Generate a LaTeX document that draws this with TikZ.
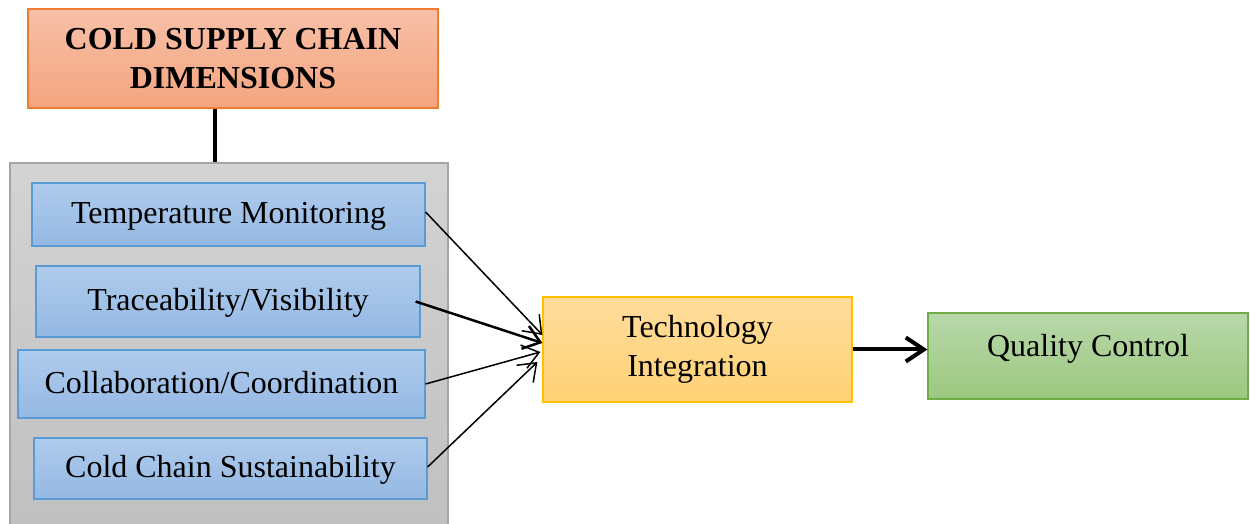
\documentclass[tikz,border=0pt]{standalone}
\usepackage{fontspec}
\setmainfont{Liberation Serif}
\usetikzlibrary{arrows.meta,calc}

\definecolor{titletop}{HTML}{F8C0A8}
\definecolor{titlebot}{HTML}{F4A47E}
\definecolor{titleline}{HTML}{ED7D31}
\definecolor{bluetop}{HTML}{AFCBEC}
\definecolor{bluebot}{HTML}{94B8E3}
\definecolor{blueline}{HTML}{5B9BD5}
\definecolor{graytop}{HTML}{D3D3D3}
\definecolor{graybot}{HTML}{C0C0C0}
\definecolor{grayline}{HTML}{A5A5A5}
\definecolor{techtop}{HTML}{FFDC9C}
\definecolor{techbot}{HTML}{FFD274}
\definecolor{techline}{HTML}{FFC000}
\definecolor{qualtop}{HTML}{B8D8AA}
\definecolor{qualbot}{HTML}{9CC77F}
\definecolor{qualline}{HTML}{70AD47}

\tikzset{
  basebox/.style={rectangle, inner sep=0pt, align=center, line width=0.6pt,
    font=\fontsize{16pt}{19.5pt}\selectfont},
  titlebox/.style={basebox, draw=titleline, top color=titletop, bottom color=titlebot,
    font=\fontsize{16pt}{19.5pt}\selectfont\bfseries},
  dimbox/.style={basebox, draw=blueline, top color=bluetop, bottom color=bluebot,
    text height=13pt, text depth=3.5pt},
  techbox/.style={basebox, draw=techline, top color=techtop, bottom color=techbot},
  qualbox/.style={basebox, draw=qualline, top color=qualtop, bottom color=qualbot},
  groupbox/.style={rectangle, inner sep=0pt, line width=0.8pt, draw=grayline,
    top color=graytop, bottom color=graybot},
  thinarrow/.style={-{Straight Barb[length=8pt,width=12pt]}, line width=0.75pt},
  midarrow/.style={-{Straight Barb[length=8pt,width=12pt]}, line width=1.25pt},
  thickarrow/.style={-{Straight Barb[length=9pt,width=12pt]}, line width=2pt},
}

\begin{document}
\begin{tikzpicture}[x=0.5pt, y=-0.5pt]
  \useasboundingbox (0,0) rectangle (1250,524);

  % header box
  \node[titlebox, minimum width=205pt, minimum height=49.5pt] (title) at (233,58.5)
    {COLD SUPPLY CHAIN\\DIMENSIONS};

  % grey group holding the four dimensions (runs past the lower edge)
  \node[groupbox, minimum width=219pt, minimum height=181.5pt] (group) at (229,344.5) {};

  \node[dimbox, minimum width=196.5pt, minimum height=31.5pt] (temp) at (228.5,214.5)
    {Temperature Monitoring};
  \node[dimbox, minimum width=192pt, minimum height=35.5pt] (trace) at (228,301.5)
    {Traceability/Visibility};
  \node[dimbox, minimum width=203.5pt, minimum height=34pt] (collab) at (221.5,384)
    {Collaboration/Coordination};
  \node[dimbox, minimum width=196.5pt, minimum height=30.5pt] (cold) at (230.5,468.5)
    {Cold Chain Sustainability};

  \node[techbox, minimum width=154.5pt, minimum height=52.5pt] (tech) at (697.5,349.5)
    {Technology\\Integration};

  \node[qualbox, minimum width=160pt, minimum height=43pt, text depth=11pt] (qual) at (1088,356)
    {Quality Control};

  % header to group
  \draw[line width=1.6pt] ([xshift=-9pt]title.south) -- ([xshift=-9pt]title.south |- group.north);

  % dimensions feeding technology integration
  \draw[thinarrow] ([yshift=1.25pt]temp.east) -- ([yshift=7.25pt]tech.west);
  \draw[midarrow] ([xshift=-2.5pt]trace.east) -- ([yshift=3.25pt]tech.west);
  \draw[thinarrow] (collab.east) -- ([xshift=-1pt,yshift=-1.25pt]tech.west);
  \draw[thinarrow] ([yshift=0.75pt]cold.east) -- ([xshift=-2.5pt,yshift=-6.25pt]tech.west);

  % technology integration to quality control
  \draw[thickarrow] (tech.east) -- (tech.east -| qual.west);
\end{tikzpicture}
\end{document}
